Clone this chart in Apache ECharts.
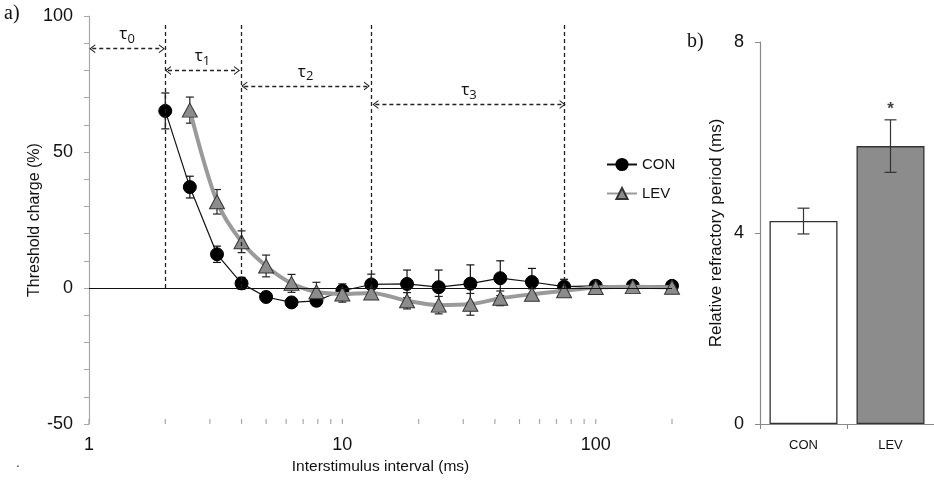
<!DOCTYPE html>
<html><head><meta charset="utf-8">
<script src="https://cdn.jsdelivr.net/npm/echarts@6/dist/echarts.min.js"></script>
<style>html,body{margin:0;padding:0;background:#fff}#c{width:934px;height:481px}</style>
</head><body><div id="c"></div>
<script>
// ---- Panel a) recovery cycle ----
const intervals = [2, 2.5, 3.2, 4, 5, 6.3, 7.9, 10, 13, 18, 24, 32, 42, 56, 75, 100, 140, 200];
const conMean = [65.1, 37.1, 12.4, 1.7, -3.3, -5.3, -4.7, -1.0, 1.3, 1.5, 0.3, 1.6, 3.6, 2.2, 0.5, 0.8, 0.8, 0.8];
const conErr  = [6.6, 4.0, 3.0, 2.2, 1.5, 1.5, 1.5, 2.5, 3.8, 5.1, 6.3, 6.9, 6.4, 5.0, 2.7, 1.0, 1.0, 1.0];
const levMean = [null, 65.4, 31.7, 17.0, 8.1, 1.7, -1.4, -2.2, -1.8, -4.7, -6.3, -6.0, -3.8, -2.3, -1.0, 0.2, 0.5, 0.3];
const levErr  = [null, 4.8, 4.5, 4.0, 4.0, 3.3, 3.5, 3.0, 2.0, 3.0, 3.2, 4.0, 2.7, 2.0, 1.5, 1.0, 1.0, 1.0];
const xTickValues = [1,2,3,4,5,6,7,8,9,10,20,30,40,50,60,70,80,90,100,200];
const xLabelValues = [1, 10, 100];
const boundaries = [2, 4, 13, 75];
const boundaryTop = 97.5;
const tauNames = ['0', '1', '2', '3'];
const tauFrom = [1.03, 2.05, 4.1, 13.5];
const tauTo = [1.94, 3.84, 12.5, 74];
const tauLevel = [88, 80, 74.3, 67.5];
// ---- Panel b) relative refractory period ----
const groups = ['CON', 'LEV'];
const rrpMean = [4.25, 5.82];
const rrpErr = [0.27, 0.55];
const starY = 6.6;

const conPts = intervals.map((x, i) => [x, conMean[i]]);
const levPts = intervals.map((x, i) => [x, levMean[i]]).filter(p => p[1] !== null);
const conErrData = intervals.map((x, i) => [x, conMean[i] - conErr[i], conMean[i] + conErr[i]]);
const levErrData = intervals.map((x, i) => levMean[i] === null ? null : [x, levMean[i] - levErr[i], levMean[i] + levErr[i]]).filter(Boolean);
const barErrData = groups.map((g, i) => [i, rrpMean[i] - rrpErr[i], rrpMean[i] + rrpErr[i]]);

function errRender(color, cap) {
  return function (params, api) {
    const x = api.value(0), lo = api.value(1), hi = api.value(2);
    const a = api.coord([x, hi]), b = api.coord([x, lo]);
    const st = { stroke: color, lineWidth: 1.2 };
    return { type: 'group', children: [
      { type: 'line', shape: { x1: a[0], y1: a[1], x2: b[0], y2: b[1] }, style: st },
      { type: 'line', shape: { x1: a[0] - cap, y1: a[1], x2: a[0] + cap, y2: a[1] }, style: st },
      { type: 'line', shape: { x1: b[0] - cap, y1: b[1], x2: b[0] + cap, y2: b[1] }, style: st }
    ]};
  };
}
// log-axis tick marks drawn through the axis scale
function tickRender(params, api) {
  const p = api.coord([api.value(0), -50]);
  return { type: 'line', shape: { x1: p[0], y1: p[1], x2: p[0], y2: p[1] - 5 },
           style: { stroke: '#a8a8a8', lineWidth: 1.2 } };
}

const chevron = 'path://M0,10 L5,0 L10,10 L8.6,10 L5,2.8 L1.4,10 Z';
const dashStyle = { color: '#222', width: 1.3, type: [4, 3] };
const markData = [];
markData.push([{ coord: [1, 0], symbol: 'none', lineStyle: { color: '#111', width: 1, type: 'solid' } }, { coord: [200, 0], symbol: 'none' }]);
boundaries.forEach(b => markData.push([{ coord: [b, 0], symbol: 'none', lineStyle: dashStyle }, { coord: [b, boundaryTop], symbol: 'none' }]));
tauNames.forEach((n, i) => markData.push([
  { coord: [tauFrom[i], tauLevel[i]], symbol: chevron, lineStyle: dashStyle,
    label: { show: true, position: 'middle', distance: 3, formatter: '{t|τ}{s|' + n + '}',
      rich: { t: { fontSize: 17, lineHeight: 22, fontFamily: 'Open Sans', color: '#111' },
              s: { fontSize: 13, lineHeight: 13, verticalAlign: 'bottom', fontFamily: 'Open Sans', color: '#111' } } } },
  { coord: [tauTo[i], tauLevel[i]], symbol: chevron }
]));

const axisFont = { fontFamily: 'Liberation Sans', fontSize: 18, color: '#111' };

const option = {
  animation: false,
  backgroundColor: '#fff',
  textStyle: { fontFamily: 'Liberation Sans' },
  graphic: [
    { type: 'text', left: 4, top: 4, style: { text: 'a)', font: '20px "Liberation Serif"', fill: '#111' } },
    { type: 'text', left: 687, top: 32, style: { text: 'b)', font: '20px "Liberation Serif"', fill: '#111' } },
    { type: 'text', left: 16, top: 456, style: { text: '.', font: '14px "Liberation Sans"', fill: '#333' } }
  ],
  legend: {
    orient: 'vertical', left: 601, top: 152, itemWidth: 30, itemHeight: 14, itemGap: 14,
    textStyle: { fontSize: 15, color: '#111', fontFamily: 'Liberation Sans' },
    data: ['CON', 'LEV']
  },
  grid: [
    { left: 89, right: 262, top: 16, bottom: 57 },
    { left: 760, right: 0, top: 42, bottom: 57 }
  ],
  xAxis: [
    { type: 'log', logBase: 10, min: 1, max: 200, gridIndex: 0,
      name: 'Interstimulus interval (ms)', nameLocation: 'middle', nameGap: 35,
      nameTextStyle: { fontSize: 15.5, color: '#111' },
      axisLine: { lineStyle: { color: '#a8a8a8', width: 1.2 } },
      axisTick: { show: false },
      axisLabel: Object.assign({ customValues: xLabelValues, margin: 12 }, axisFont),
      splitLine: { show: false }, minorTick: { show: false } },
    { type: 'category', gridIndex: 1, data: groups,
      axisLine: { lineStyle: { color: '#888', width: 1.2 } },
      axisTick: { show: true, length: 5, lineStyle: { color: '#888' } },
      axisLabel: { fontSize: 13, color: '#111', margin: 15 } }
  ],
  yAxis: [
    { type: 'value', gridIndex: 0, min: -50, max: 100, interval: 50,
      name: 'Threshold charge (%)', nameLocation: 'middle', nameGap: 46, nameMoveOverlap: false,
      nameTextStyle: { fontSize: 16, color: '#111' },
      axisLine: { show: true, lineStyle: { color: '#a8a8a8', width: 1.2 } },
      axisTick: { show: true, length: 5, lineStyle: { color: '#a8a8a8' } },
      minorTick: { show: true, splitNumber: 5, length: 5, lineStyle: { color: '#a8a8a8' } },
      axisLabel: Object.assign({ margin: 16 }, axisFont),
      splitLine: { show: false } },
    { type: 'value', gridIndex: 1, min: 0, max: 8, interval: 4,
      name: 'Relative refractory period (ms)', nameLocation: 'middle', nameGap: 35,
      nameTextStyle: { fontSize: 17, color: '#111' },
      axisLine: { show: true, lineStyle: { color: '#888', width: 1.2 } },
      axisTick: { show: true, length: 5, lineStyle: { color: '#888' } },
      axisLabel: Object.assign({ margin: 16 }, axisFont),
      splitLine: { show: false } }
  ],
  series: [
    { type: 'line', name: 'guides', xAxisIndex: 0, yAxisIndex: 0, data: [], silent: true,
      markLine: { silent: true, symbol: 'none', symbolSize: [9, 6], label: { show: false }, data: markData } },
    { type: 'custom', name: 'xticks', xAxisIndex: 0, yAxisIndex: 0, renderItem: tickRender, silent: true,
      encode: { x: 0 }, data: xTickValues.map(v => [v]), z: 1 },
    { type: 'custom', name: 'conErr', xAxisIndex: 0, yAxisIndex: 0, renderItem: errRender('#111', 4),
      encode: { x: 0, y: [1, 2] }, data: conErrData, z: 2 },
    { type: 'custom', name: 'levErr', xAxisIndex: 0, yAxisIndex: 0, renderItem: errRender('#222', 4),
      encode: { x: 0, y: [1, 2] }, data: levErrData, z: 2 },
    { type: 'line', name: 'CON', xAxisIndex: 0, yAxisIndex: 0, data: conPts,
      symbol: 'circle', symbolSize: 13, z: 3,
      lineStyle: { color: '#111', width: 1.2 },
      itemStyle: { color: '#000', borderColor: '#000', borderWidth: 1 } },
    { type: 'line', name: 'LEV', xAxisIndex: 0, yAxisIndex: 0, data: levPts, smooth: 0.3,
      symbol: 'triangle', symbolSize: [15, 14], z: 4,
      lineStyle: { color: '#9a9a9a', width: 4 },
      itemStyle: { color: '#8c8c8c', borderColor: '#333', borderWidth: 1 } },
    { type: 'bar', name: 'rrp', xAxisIndex: 1, yAxisIndex: 1, barWidth: 68,
      data: rrpMean.map((v, i) => ({ value: v, itemStyle: { color: i === 0 ? '#ffffff' : '#8c8c8c', borderColor: '#333', borderWidth: 1.3 } })) },
    { type: 'custom', name: 'rrpErr', xAxisIndex: 1, yAxisIndex: 1, renderItem: errRender('#333', 6),
      encode: { x: 0, y: [1, 2] }, data: barErrData, z: 5 },
    { type: 'scatter', name: 'star', xAxisIndex: 1, yAxisIndex: 1, symbolSize: 0,
      data: [[1, starY]],
      label: { show: true, position: 'inside', formatter: '*', fontSize: 17, fontWeight: 'bold', color: '#111' } }
  ]
};
const chart = echarts.init(document.getElementById('c'), null, { renderer: 'canvas' });
chart.setOption(option);
</script></body></html>
